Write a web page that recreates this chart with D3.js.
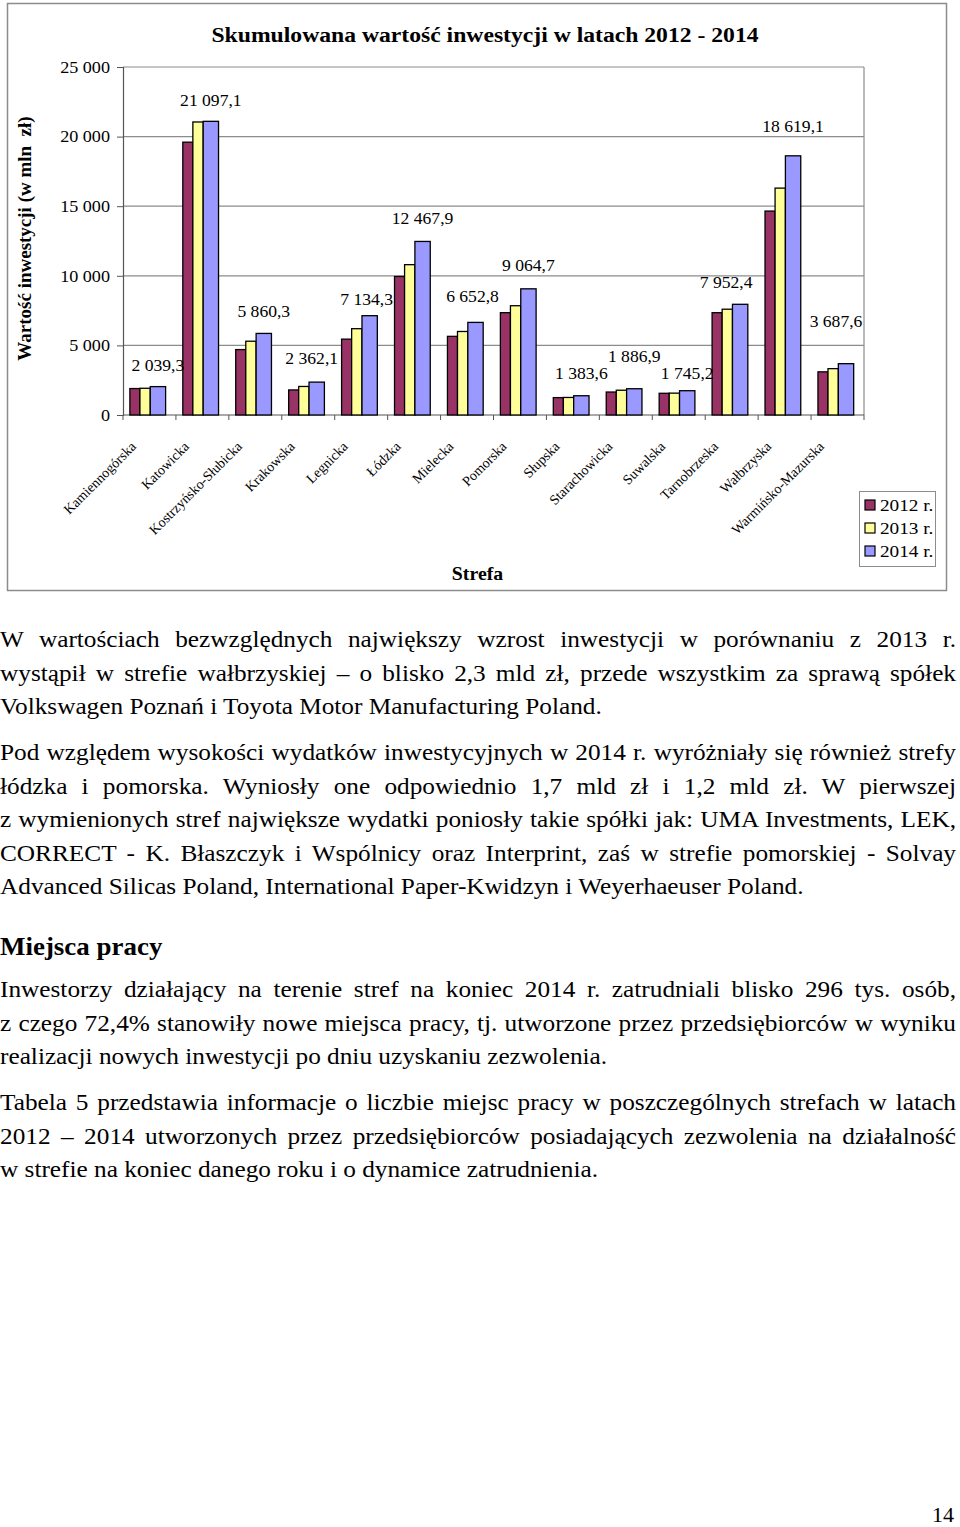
<!DOCTYPE html>
<html><head><meta charset="utf-8">
<script src="https://cdn.jsdelivr.net/npm/d3@7"></script>
<style>
html,body{margin:0;padding:0;background:#fff;}
svg{display:block;font-family:"Liberation Serif","Times New Roman",serif;}
</style></head><body>
<svg id="page" width="960" height="1527"></svg>
<script>
// ---------- DATA ----------
const categories = ["Kamiennogórska","Katowicka","Kostrzyńsko-Słubicka","Krakowska","Legnicka","Łódzka","Mielecka","Pomorska","Słupska","Starachowicka","Suwalska","Tarnobrzeska","Wałbrzyska","Warmińsko-Mazurska"];
const seriesNames = ["2012 r.","2013 r.","2014 r."];
const values2012 = [1900,19600,4700,1800,5450,9950,5650,7350,1250,1650,1560,7350,14650,3100];
const values2013 = [1920,21050,5300,2050,6200,10800,6000,7850,1260,1780,1570,7600,16300,3330];
const values2014 = [2039.3,21097.1,5860.3,2362.1,7134.3,12467.9,6652.8,9064.7,1383.6,1886.9,1745.2,7952.4,18619.1,3687.6];
const yTickValues = [0,5000,10000,15000,20000,25000];

// ---------- LAYOUT / STYLE ----------
const colors = ["#993366","#FFFF99","#9999FF"];
const barOffset = [0.13,0.32,0.515];
const barWidth = [0.19,0.195,0.29];
const labelLift = [21.6,21.3,21.7,23.8,15.7,23,25.7,23.8,22.4,32.7,17.4,21.6,29.8,42];
const labelDx = [0,0,0,-5,-3,0,-3,0,0,0,0,-14,0,-10];
const SX = 1.1; // horizontal stretch of the reference

const svg = d3.select("#page");
const loc = d3.formatLocale({decimal:",",thousands:" ",grouping:[3],currency:["",""]});
const f1 = loc.format(",.1f"), f0 = loc.format(",.0f");

const plot = {left:123,right:864,top:67,bottom:415};
const x = d3.scaleBand().domain(categories).range([plot.left,plot.right]);
const y = d3.scaleLinear().domain([0,25000]).range([plot.bottom,plot.top]);
const bw = x.bandwidth();

function stext(parent,px,py,str,opts){
  const g = parent.append("g").attr("transform",`translate(${px},${py}) scale(${SX},1)`);
  const t = g.append("text").text(str)
    .attr("font-size",opts.size).attr("text-anchor",opts.anchor||"start")
    .attr("font-weight",opts.bold?"bold":"normal").attr("fill","#000");
  return t;
}

// chart frame
svg.append("rect").attr("x",7.5).attr("y",3.5).attr("width",939).attr("height",587)
  .attr("fill","#fff").attr("stroke","#8c8c8c").attr("stroke-width",1.5);

// gridlines
svg.append("g").selectAll("line").data(yTickValues.filter(v=>v>0)).join("line")
  .attr("x1",plot.left).attr("x2",plot.right)
  .attr("y1",d=>y(d)).attr("y2",d=>y(d))
  .attr("stroke","#8c8c8c").attr("stroke-width",1.2);
svg.append("line").attr("x1",plot.right).attr("x2",plot.right).attr("y1",plot.top).attr("y2",plot.bottom)
  .attr("stroke","#8c8c8c").attr("stroke-width",1.2);

// y axis
const gy = svg.append("g").attr("transform",`translate(${plot.left},0)`)
  .call(d3.axisLeft(y).tickValues(yTickValues).tickFormat(f0).tickSize(6).tickPadding(7));
gy.select(".domain").attr("stroke","#555").attr("stroke-width",1.2);
gy.selectAll(".tick line").attr("stroke","#555");
gy.selectAll(".tick text").attr("font-size",16.5).attr("font-family","Liberation Serif")
  .attr("fill","#000").attr("x",-13/SX).attr("transform",`scale(${SX},1)`);

// x axis line + boundary ticks
svg.append("line").attr("x1",plot.left).attr("x2",plot.right).attr("y1",y(0)).attr("y2",y(0))
  .attr("stroke","#555").attr("stroke-width",1.2);
const bounds = categories.map(c=>x(c)).concat([x.range()[1]]);
svg.append("g").selectAll("line").data(bounds).join("line")
  .attr("x1",d=>d).attr("x2",d=>d).attr("y1",y(0)).attr("y2",y(0)+5)
  .attr("stroke","#555");

// bars
const seriesValues = [values2012,values2013,values2014];
seriesValues.forEach((vals,s)=>{
  svg.append("g").selectAll("rect").data(categories).join("rect")
    .attr("x",c=>x(c)+bw*barOffset[s])
    .attr("width",bw*barWidth[s])
    .attr("y",(c,i)=>y(vals[i]))
    .attr("height",(c,i)=>y(0)-y(vals[i]))
    .attr("fill",colors[s]).attr("stroke","#000").attr("stroke-width",1.3);
});

// data labels (2014)
const gl = svg.append("g");
categories.forEach((c,i)=>{
  const cx = x(c)+bw*(barOffset[2]+barWidth[2]/2)+labelDx[i];
  stext(gl,cx,y(values2014[i])-labelLift[i]+5.5,f1(values2014[i]),{size:16,anchor:"middle"});
});

// category labels
svg.append("g").selectAll("text").data(categories).join("text")
  .attr("transform",c=>`translate(${x(c)+bw/2-16},444) rotate(-45)`)
  .attr("text-anchor","end").attr("dy","0.35em").attr("font-size",14).attr("fill","#000")
  .text(c=>c);

// titles
stext(svg,485,42,"Skumulowana wartość inwestycji w latach 2012 - 2014",{size:21.5,anchor:"middle",bold:true});
stext(svg,477.5,580,"Strefa",{size:18,anchor:"middle",bold:true});
svg.append("text").attr("transform","translate(31,238.5) rotate(-90)")
  .attr("text-anchor","middle").attr("font-weight","bold").attr("font-size",19)
  .style("white-space","pre").text("Wartość inwestycji (w mln  zł)");

// legend
const lg = svg.append("g");
lg.append("rect").attr("x",859.5).attr("y",491.5).attr("width",76).attr("height",75)
  .attr("fill","#fff").attr("stroke","#8c8c8c");
seriesNames.forEach((n,s)=>{
  lg.append("rect").attr("x",865).attr("y",500+23*s).attr("width",10).attr("height",10)
    .attr("fill",colors[s]).attr("stroke","#000").attr("stroke-width",1.2);
  stext(lg,880,510.5+23*s,n,{size:17.5});
});

// ---------- TEXT BELOW ----------
const lines = [
 {t:"W wartościach bezwzględnych największy wzrost inwestycji w porównaniu z 2013 r.",y:647,j:true},
 {t:"wystąpił w strefie wałbrzyskiej – o blisko 2,3 mld zł, przede wszystkim za sprawą spółek",y:680.5,j:true},
 {t:"Volkswagen Poznań i Toyota Motor Manufacturing Poland.",y:714,j:false},
 {t:"Pod względem wysokości wydatków inwestycyjnych w 2014 r. wyróżniały się również strefy",y:760,j:true},
 {t:"łódzka i pomorska. Wyniosły one odpowiednio 1,7 mld zł i 1,2 mld zł. W pierwszej",y:793.5,j:true},
 {t:"z wymienionych stref największe wydatki poniosły takie spółki jak: UMA Investments, LEK,",y:827,j:true},
 {t:"CORRECT - K. Błaszczyk i Wspólnicy oraz Interprint, zaś w strefie pomorskiej - Solvay",y:860.5,j:true},
 {t:"Advanced Silicas Poland, International Paper-Kwidzyn i Weyerhaeuser Poland.",y:894,j:false},
 {t:"Miejsca pracy",y:955,j:false,b:true,s:24.5},
 {t:"Inwestorzy działający na terenie stref na koniec 2014 r. zatrudniali blisko 296 tys. osób,",y:997,j:true},
 {t:"z czego 72,4% stanowiły nowe miejsca pracy, tj. utworzone przez przedsiębiorców w wyniku",y:1030.5,j:true},
 {t:"realizacji nowych inwestycji po dniu uzyskaniu zezwolenia.",y:1064,j:false},
 {t:"Tabela 5 przedstawia informacje o liczbie miejsc pracy w poszczególnych strefach w latach",y:1110,j:true},
 {t:"2012 – 2014 utworzonych przez przedsiębiorców posiadających zezwolenia na działalność",y:1143.5,j:true},
 {t:"w strefie na koniec danego roku i o dynamice zatrudnienia.",y:1177,j:false}
];
const targetW = 956/SX;
lines.forEach(l=>{
  const t = stext(svg,0,l.y,l.t,{size:l.s||23,bold:!!l.b});
  if(l.j){
    const len = t.node().getComputedTextLength();
    const n = (l.t.match(/ /g)||[]).length;
    t.style("word-spacing",((targetW-len)/n)+"px");
  }
});
stext(svg,954,1521.5,"14",{size:20,anchor:"end"});
</script>
</body></html>
